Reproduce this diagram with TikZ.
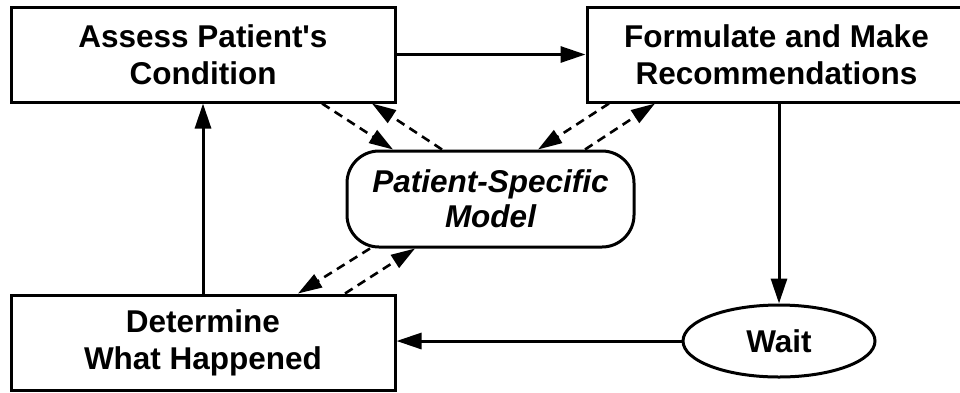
\documentclass[tikz,border=0pt]{standalone}
\usepackage{fontspec}
\setmainfont{Liberation Sans}
\usetikzlibrary{arrows.meta,shapes.geometric,calc}
\begin{document}
\begin{tikzpicture}[x=1pt,y=-1pt,
  every node/.style={font=\fontsize{31.5}{37}\selectfont\bfseries, align=center, line width=3pt, inner sep=0pt},
  stepbox/.style={draw, rectangle, minimum height=95pt},
  modelbox/.style={draw, rectangle, rounded corners=32pt, minimum width=287pt, minimum height=96pt,
    font=\fontsize{31.5}{35}\selectfont\bfseries\itshape},
  waitnode/.style={draw, ellipse, minimum width=192pt, minimum height=72pt},
  flow/.style={line width=3pt, -{Triangle[length=25pt,width=16pt]}},
  link/.style={line width=2.6pt, dash pattern=on 9pt off 6pt, -{Triangle[length=24pt,width=15pt]}}
]
\useasboundingbox (0,0) rectangle (960,392);

\node[stepbox, minimum width=384pt] (assess) at (203,54.5) {Assess Patient\textquotesingle s\\Condition};
\node[stepbox, minimum width=379pt] (formulate) at (776.5,54.5) {Formulate and Make\\Recommendations};
\node[stepbox, minimum width=384pt] (determine) at (203,342.5) {Determine\\What Happened};
\node[modelbox] (model) at (490.5,199) {Patient-Specific\\Model};
\node[waitnode] (wait) at (779,341) {Wait};

% main cycle
\draw[flow] (assess.east) -- (formulate.west);
\draw[flow] (wait.north |- formulate.south) -- (wait.north);
\draw[flow] (wait.west) -- (wait.west -| determine.east);
\draw[flow] (determine.north) -- (assess.south);

% exchanges with the patient-specific model
\draw[link] (322,0 |- assess.south) -- (393,0 |- model.north);
\draw[link] (442,0 |- model.north) -- (372,0 |- assess.south);
\draw[link] (609,0 |- formulate.south) -- (538,0 |- model.north);
\draw[link] (585,0 |- model.north) -- (655,0 |- formulate.south);
\draw[link] (370,0 |- model.south) -- (298,0 |- determine.north);
\draw[link] (345,0 |- determine.north) -- (415,0 |- model.south);
\end{tikzpicture}
\end{document}
